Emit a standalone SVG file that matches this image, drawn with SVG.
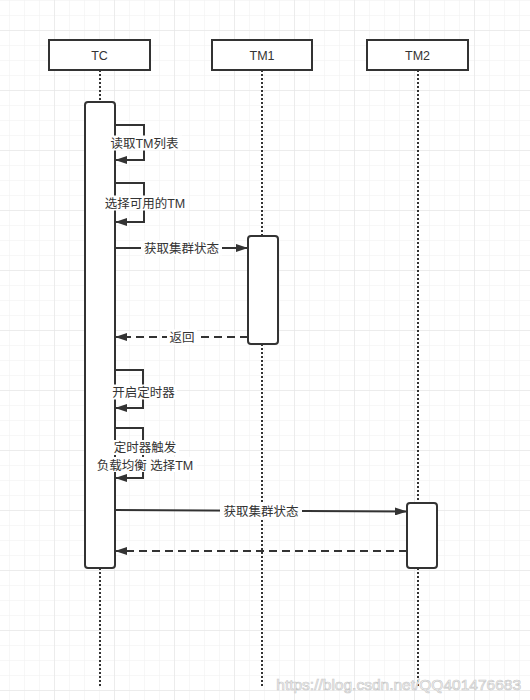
<svg xmlns="http://www.w3.org/2000/svg" width="530" height="700" viewBox="0 0 530 700">
<defs>
<pattern id="minor" patternUnits="userSpaceOnUse" x="9" y="0" width="15" height="15">
<path d="M0 0V15M0 0H15" fill="none" stroke="#efefef" stroke-width="1"/>
</pattern>
<pattern id="major" patternUnits="userSpaceOnUse" x="54" y="30" width="60" height="60">
<path d="M0 0V60M0 0H60" fill="none" stroke="#e2e2e2" stroke-width="1"/>
</pattern>
<marker id="arr" viewBox="0 0 12 8" refX="12" refY="4" markerWidth="12" markerHeight="8" markerUnits="userSpaceOnUse" orient="auto">
<path d="M0 0L12 4L0 8Z" fill="#333"/>
</marker>
<style>
.box{fill:#fff;stroke:#333;stroke-width:2}
.act{fill:#fff;stroke:#333;stroke-width:2}
.life{stroke:#333;stroke-width:2;stroke-dasharray:2 2;fill:none}
.msg{stroke:#333;stroke-width:2;fill:none;marker-end:url(#arr)}
.ret{stroke:#333;stroke-width:2;fill:none;stroke-dasharray:8 5;marker-end:url(#arr)}
.t{font-family:"Liberation Sans","Noto Sans CJK SC",sans-serif;font-size:12.5px;fill:#333;text-anchor:middle}
.n{font-family:"Liberation Sans","Noto Sans CJK SC",sans-serif;font-size:12.5px;fill:#333;text-anchor:middle}
.bg{fill:#fff}
</style>
</defs>
<rect width="530" height="700" fill="#fff"/>
<rect width="530" height="700" fill="url(#minor)"/>
<rect width="530" height="700" fill="url(#major)"/>
<g id="lifelines">
<path class="life" d="M100 70V102M100 568V688"/>
<path class="life" d="M262 70V236M262 344V688"/>
<path class="life" d="M418 70V503M418 568V688"/>
</g>
<g id="TC"><rect class="box" x="49" y="40" width="101" height="30"/><text class="n" x="99.5" y="59.5">TC</text></g>
<g id="TM1"><rect class="box" x="212" y="40" width="100" height="30"/><text class="n" x="262" y="59.5">TM1</text></g>
<g id="TM2"><rect class="box" x="367" y="40" width="101" height="30"/><text class="n" x="417.5" y="59.5">TM2</text></g>
<g id="TC-activation"><rect class="act" x="85" y="102" width="30" height="466" rx="3"/></g>
<g id="TM1-activation"><rect class="act" x="248" y="236" width="30" height="108" rx="3"/></g>
<g id="TM2-activation"><rect class="act" x="407" y="503" width="30" height="65" rx="3"/></g>
<g id="connectors">
<path class="msg" d="M115 125H144V160H115"/>
<path class="msg" d="M115 183H144V222H115"/>
<path class="msg" d="M115 248H248"/>
<path class="ret" d="M248 337H115"/>
<path class="msg" d="M115 370H143V408H115"/>
<path class="msg" d="M115 428H143V478H115"/>
<path class="msg" d="M115 510L407 511.5"/>
<path class="ret" d="M407 551H115"/>
</g>
<g id="labels">
<rect class="bg" x="107" y="135.5" width="75" height="15"/><text class="t" x="144.5" y="147.5">读取TM列表</text>
<rect class="bg" x="101" y="195.5" width="88" height="15"/><text class="t" x="145" y="207.5">选择可用的TM</text>
<rect class="bg" x="141" y="240.5" width="81" height="15"/><text class="t" x="181.5" y="252.5">获取集群状态</text>
<rect class="bg" x="167" y="329.5" width="30" height="15"/><text class="t" x="182" y="341.5">返回</text>
<rect class="bg" x="110" y="384.5" width="67" height="15"/><text class="t" x="143.5" y="396.5">开启定时器</text>
<rect class="bg" x="111" y="440" width="68" height="15"/><text class="t" x="145" y="452">定时器触发</text>
<rect class="bg" x="93" y="457" width="104" height="15"/><text class="t" x="145" y="469.5">负载均衡 选择TM</text>
<rect class="bg" x="220" y="504" width="82" height="15"/><text class="t" x="261" y="516">获取集群状态</text>
</g>
<text x="521" y="690" font-family="Liberation Sans,sans-serif" font-size="15.5" fill="#fff" stroke="#c8c8c8" stroke-width="0.7" text-anchor="end">https://blog.csdn.net/QQ401476683</text>
</svg>
